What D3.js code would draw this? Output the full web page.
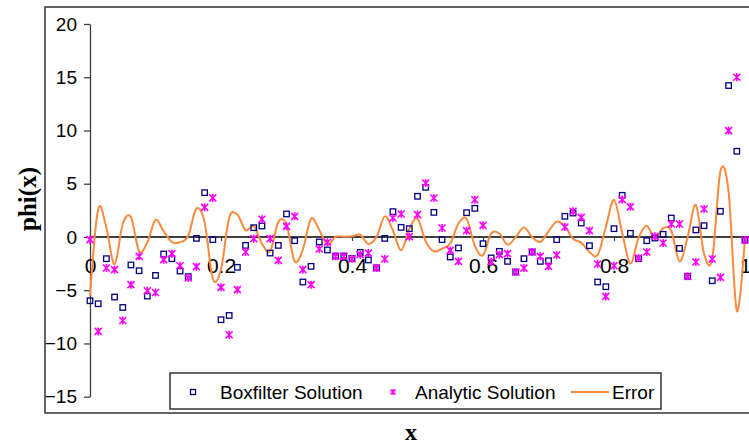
<!DOCTYPE html>
<html>
<head>
<meta charset="utf-8">
<script src="https://cdn.jsdelivr.net/npm/d3@7/dist/d3.min.js"></script>
<style>
  html, body { margin: 0; padding: 0; background: #fff; }
  svg { display: block; }
  text { font-family: "Liberation Sans", Arial, sans-serif; fill: #000; }
</style>
</head>
<body>
<svg id="chart" width="749" height="445"></svg>
<script>
// Sample positions x = i/80, i = 0..80
const sampleCount = 81;

// Boxfilter solution at each sample
const boxfilter = [
  -5.99, -6.27, -2.04, -5.64, -6.62, -2.63, -3.17, -5.55, -3.61, -1.60,
  -2.04, -3.20, -3.73, -0.13, 4.16, -0.25, -7.77, -7.37, -2.85, -0.79,
  0.87, 1.03, -1.51, -0.79, 2.16, -0.35, -4.23, -2.76, -0.47, -1.22,
  -1.79, -1.79, -2.01, -1.45, -2.16, -2.90, -0.13, 2.38, 0.90, 0.78,
  3.82, 4.66, 2.31, -0.25, -1.88, -1.03, 2.28, 2.69, -0.63, -1.97,
  -1.35, -2.29, -3.29, -2.04, -1.41, -2.29, -2.23, -0.25, 1.94, 2.25,
  1.31, -0.82, -4.23, -4.67, 0.78, 3.91, 0.34, -2.04, -0.35, -0.10,
  0.25, 1.78, -1.07, -3.70, 0.66, 1.06, -4.11, 2.41, 14.22, 8.05,
  -0.30
];

// Analytic solution at each sample
const analytic = [
  -0.25, -8.87, -2.91, -3.07, -7.84, -4.48, -1.82, -5.05, -5.21, -2.13,
  -1.57, -2.70, -3.85, -2.79, 2.78, 3.67, -4.73, -9.18, -4.95, -1.41,
  -0.16, 1.66, -0.16, -2.20, 1.00, 1.94, -3.07, -4.48, -1.13, -0.50,
  -1.82, -1.82, -2.07, -1.66, -1.51, -2.92, -2.07, 1.78, 2.16, 0.03,
  2.10, 5.07, 3.66, 0.84, -1.26, -2.29, 0.59, 3.50, 1.09, -2.30,
  -1.66, -1.57, -3.29, -2.92, -1.41, -1.82, -2.76, -1.69, 0.94, 2.41,
  1.84, 0.59, -2.54, -5.58, -2.70, 3.51, 2.83, -1.97, -1.41, 0.06,
  -0.57, 1.22, 1.22, -3.70, -2.35, 2.63, -2.07, -3.79, 9.99, 15.00,
  -0.28
];

// Error curve at each sample
const errorValues = [
  -5.50, 2.60, 0.87, -2.57, 1.22, 1.85, -1.35, -0.50, 1.60, 0.53,
  -0.47, -0.50, 0.12, 2.66, 1.38, -3.92, -3.04, 1.81, 2.10, 0.62,
  1.03, -0.63, -1.35, 1.41, 1.16, -2.29, -1.16, 1.72, 0.66, -0.72,
  0.03, 0.03, 0.06, 0.21, -0.65, 0.02, 1.94, 0.60, -1.26, 0.75,
  1.72, -0.41, -1.35, -1.09, -0.62, 1.26, 1.69, -0.81, -1.72, 0.33,
  0.31, -0.72, 0.00, 0.88, 0.00, -0.47, 0.53, 1.44, 1.00, -0.16,
  -0.53, -1.41, -1.69, 0.91, 3.48, 0.40, -2.49, -0.07, 1.06, -0.16,
  0.82, 0.56, -2.29, 0.00, 3.01, -1.57, -2.04, 6.20, 4.23, -6.95,
  0.00
];

const xTicks = [0, 0.2, 0.4, 0.6, 0.8, 1];
const xTickLabels = ["0", "0.2", "0.4", "0.6", "0.8", "1"];
const yTicks = [-15, -10, -5, 0, 5, 10, 15, 20];
const seriesNames = ["Boxfilter Solution", "Analytic Solution", "Error"];

const colBox = "#000080";
const colStar = "#ff00ff";
const colErr = "#f98a3e";
const colAxis = "#404040";

const xs = d3.range(sampleCount).map(i => i / (sampleCount - 1));

const svg = d3.select("#chart");

const x = d3.scaleLinear().domain([0, 1]).range([90, 745]);
const y = d3.scaleLinear().domain([-15, 20]).range([396.7, 24]);

// outer frame
svg.append("rect")
  .attr("x", 45).attr("y", 7)
  .attr("width", 760).attr("height", 406)
  .attr("fill", "none")
  .attr("stroke", "#333").attr("stroke-width", 1.5);

// y axis
const yAxis = svg.append("g")
  .attr("transform", `translate(${x(0)},0)`)
  .call(d3.axisLeft(y).tickValues(yTicks).tickSize(6).tickSizeOuter(0).tickPadding(7)
    .tickFormat(d3.format("d")));
yAxis.selectAll("path, line").attr("stroke", colAxis).attr("stroke-width", 1.3);
yAxis.selectAll("text").style("font-size", "19px").style("font-family", "'Liberation Sans', Arial, sans-serif").attr("fill", "#000");

// x axis through zero
const xAxis = svg.append("g")
  .attr("transform", `translate(0,${y(0)})`)
  .call(d3.axisBottom(x).tickValues(xTicks).tickSize(4).tickSizeOuter(0).tickPadding(17)
    .tickFormat((d, i) => xTickLabels[i]));
xAxis.select(".domain").remove();
xAxis.selectAll("line").attr("stroke", colAxis).attr("stroke-width", 1.2);
xAxis.selectAll("text").style("font-size", "21px").style("font-family", "'Liberation Sans', Arial, sans-serif").attr("fill", "#000");
svg.append("line")
  .attr("x1", x(0)).attr("x2", 760)
  .attr("y1", y(0)).attr("y2", y(0))
  .attr("stroke", colAxis).attr("stroke-width", 2);

// error curve, smoothed through the samples
const errLine = d3.line()
  .x((d, i) => x(xs[i]))
  .y(d => y(d))
  .curve(d3.curveCatmullRom.alpha(0));
svg.append("path")
  .datum(errorValues)
  .attr("d", errLine)
  .attr("fill", "none")
  .attr("stroke", colErr)
  .attr("stroke-width", 2);

// boxfilter markers
const sq = 5.5;
svg.append("g").selectAll("rect")
  .data(boxfilter)
  .join("rect")
  .attr("x", (d, i) => x(xs[i]) - sq / 2)
  .attr("y", d => y(d) - sq / 2)
  .attr("width", sq).attr("height", sq)
  .attr("fill", "none")
  .attr("stroke", colBox).attr("stroke-width", 1.3);

// analytic markers (asterisk)
const st = 3.5;
const starPath = `M${-st},${-st}L${st},${st}M${-st},${st}L${st},${-st}M0,${-st - 0.5}L0,${st + 0.5}`;
svg.append("g").selectAll("path")
  .data(analytic)
  .join("path")
  .attr("transform", (d, i) => `translate(${x(xs[i])},${y(d)})`)
  .attr("d", starPath)
  .attr("fill", "none")
  .attr("stroke", colStar).attr("stroke-width", 1.6);

// axis titles
svg.append("text")
  .attr("transform", "translate(36,199) rotate(-90)")
  .attr("text-anchor", "middle")
  .style("font-family", "'Liberation Serif', 'Times New Roman', serif")
  .style("font-size", "25px").style("font-weight", "bold")
  .text("phi(x)");

svg.append("text")
  .attr("x", 411).attr("y", 440)
  .attr("text-anchor", "middle")
  .style("font-family", "'Liberation Serif', 'Times New Roman', serif")
  .style("font-size", "24px").style("font-weight", "bold")
  .text("x");

// legend
const lg = svg.append("g");
lg.append("rect")
  .attr("x", 170).attr("y", 373).attr("width", 491).attr("height", 36)
  .attr("fill", "#fff").attr("stroke", "#333").attr("stroke-width", 1.5);
const ly = 392;
lg.append("rect")
  .attr("x", 193 - 2.5).attr("y", ly - 2.5).attr("width", 5).attr("height", 5)
  .attr("fill", "none").attr("stroke", colBox).attr("stroke-width", 1.3);
lg.append("path")
  .attr("transform", `translate(393,${ly})`)
  .attr("d", `M-2.5,-2.5L2.5,2.5M-2.5,2.5L2.5,-2.5M0,-3L0,3`)
  .attr("stroke", colStar).attr("stroke-width", 1.6);
lg.append("line")
  .attr("x1", 571).attr("x2", 609).attr("y1", ly).attr("y2", ly)
  .attr("stroke", colErr).attr("stroke-width", 2);
const legendText = [[220, seriesNames[0]], [415, seriesNames[1]], [612, seriesNames[2]]];
lg.selectAll("text.lt")
  .data(legendText)
  .join("text")
  .attr("class", "lt")
  .attr("x", d => d[0]).attr("y", ly + 7)
  .style("font-size", "19px")
  .text(d => d[1]);
</script>
</body>
</html>
